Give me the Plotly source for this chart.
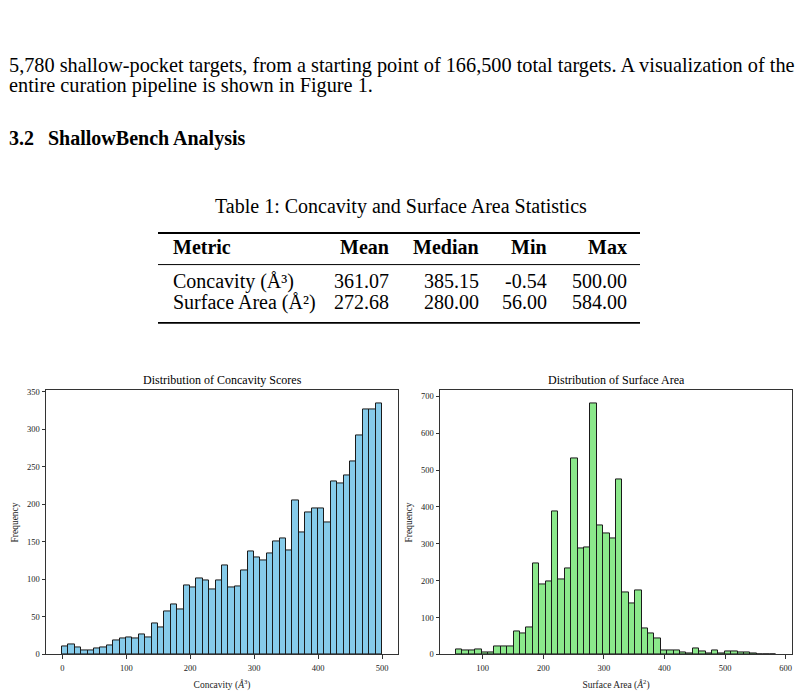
import numpy as np
import plotly.graph_objects as go

# ---------------- data ----------------
conc_min, conc_max = -0.54, 500.00
conc_counts = [11, 13, 10, 6, 6, 8, 10, 12, 19, 22,
               23, 22, 27, 23, 41, 36, 57, 67, 60, 92,
               89, 101, 99, 86, 99, 119, 89, 91, 112, 137,
               129, 125, 134, 150, 155, 139, 205, 163, 189, 194,
               194, 176, 231, 228, 239, 257, 292, 326, 326, 335]

sa_min, sa_max = 56.00, 584.00
sa_counts = [13, 10, 10, 15, 6, 6, 23, 21, 21, 62,
             56, 74, 247, 190, 199, 388, 204, 234, 531, 287,
             290, 682, 350, 327, 314, 474, 168, 138, 175, 71,
             57, 43, 12, 10, 12, 6, 4, 17, 9, 4,
             12, 4, 7, 7, 5, 5, 2, 0, 1, 1]

table_cols = ["Metric", "Mean", "Median", "Min", "Max"]
table_rows = [
    ["Concavity (Å³)", "361.07", "385.15", "-0.54", "500.00"],
    ["Surface Area (Å²)", "272.68", "280.00", "56.00", "584.00"],
]

conc_xticks = [0, 100, 200, 300, 400, 500]
conc_yticks = [0, 50, 100, 150, 200, 250, 300, 350]
sa_xticks = [100, 200, 300, 400, 500, 600]
sa_yticks = [0, 100, 200, 300, 400, 500, 600, 700]

body_line1 = ("5,780 shallow-pocket targets, from a starting point of 166,500 total targets. "
              "A visualization of the")
body_line2 = "entire curation pipeline is shown in Figure 1."
section_num = "3.2"
section_title = "ShallowBench Analysis"
table_caption = "Table 1: Concavity and Surface Area Statistics"

# ---------------- layout helpers ----------------
W, H = 804, 697
SERIF = "Liberation Serif"


def px(x, y):
    return x / W, 1 - y / H


def bins(lo, hi, counts):
    edges = np.linspace(lo, hi, len(counts) + 1)
    centers = (edges[:-1] + edges[1:]) / 2
    width = edges[1] - edges[0]
    return centers, width


def padded(lo, hi):
    m = 0.05 * (hi - lo)
    return [lo - m, hi + m]


fig = go.Figure()

cx, cw = bins(conc_min, conc_max, conc_counts)
fig.add_trace(go.Bar(x=cx, y=conc_counts, width=cw, xaxis="x", yaxis="y",
                     marker=dict(color="#86CBEA", line=dict(color="#1a1a1a", width=1)),
                     showlegend=False))
sx, sw = bins(sa_min, sa_max, sa_counts)
fig.add_trace(go.Bar(x=sx, y=sa_counts, width=sw, xaxis="x2", yaxis="y2",
                     marker=dict(color="#8BE88B", line=dict(color="#1a1a1a", width=1)),
                     showlegend=False))

axis_common = dict(showline=True, mirror=True, linecolor="#333333", linewidth=1,
                   ticks="outside", ticklen=3.5, tickwidth=1, tickcolor="#333333",
                   showgrid=False, zeroline=False,
                   tickfont=dict(family=SERIF, size=8.5, color="#222222"))

l0, _ = px(46, 0)
l1, _ = px(398, 0)
r0, _ = px(440, 0)
r1, _ = px(792, 0)
_, yb = px(0, 659)
_, yt = px(0, 391.5)

fig.update_layout(
    width=W, height=H,
    margin=dict(l=0, r=0, t=0, b=0),
    paper_bgcolor="white", plot_bgcolor="white",
    bargap=0,
    xaxis=dict(domain=[l0, l1], range=padded(conc_min, conc_max), tickvals=conc_xticks,
               anchor="y", ticklabelstandoff=2,
               title=dict(text="Concavity (<i>Å</i><sup>3</sup>)",
                          font=dict(family=SERIF, size=9.5, color="#222222"), standoff=9),
               **axis_common),
    yaxis=dict(domain=[yb, yt], range=[0, 1.05 * max(conc_counts)], tickvals=conc_yticks,
               anchor="x",
               title=dict(text="Frequency", font=dict(family=SERIF, size=9.5, color="#222222"),
                          standoff=6),
               **axis_common),
    xaxis2=dict(domain=[r0, r1], range=padded(sa_min, sa_max), tickvals=sa_xticks,
                anchor="y2", ticklabelstandoff=2,
                title=dict(text="Surface Area (<i>Å</i><sup>2</sup>)",
                           font=dict(family=SERIF, size=9.5, color="#222222"), standoff=9),
                **axis_common),
    yaxis2=dict(domain=[yb, yt], range=[0, 1.05 * max(sa_counts)], tickvals=sa_yticks,
                anchor="x2",
                title=dict(text="Frequency", font=dict(family=SERIF, size=9.5, color="#222222"),
                           standoff=6),
                **axis_common),
)

ann = []


def text(x, y, s, size=20, bold=False, xanchor="left", color="black"):
    ax, ay = px(x, y)
    ann.append(dict(x=ax, y=ay, xref="paper", yref="paper", text=(f"<b>{s}</b>" if bold else s),
                    showarrow=False, xanchor=xanchor, yanchor="middle",
                    font=dict(family=SERIF, size=size, color=color)))


# body text
text(7, 62, body_line1, size=20.3)
text(7, 83, body_line2, size=20.3)
text(7, 136, section_num, size=20, bold=True)
text(46, 136, section_title, size=20, bold=True)

# table
text(401, 205, table_caption, size=20, xanchor="center")
col_x = [171, 391, 481, 549, 629]
for i, c in enumerate(table_cols):
    text(col_x[i], 246, c, size=20, bold=True, xanchor="left" if i == 0 else "right")
for r, row in enumerate(table_rows):
    y = 281 + 21 * r
    for i, c in enumerate(row):
        text(col_x[i], y, c, size=20, xanchor="left" if i == 0 else "right")

shapes = []
for yy, lw in [(232, 1.8), (264, 1.0), (323, 1.8)]:
    xa, ya = px(158, yy)
    xb, _ = px(640, yy)
    shapes.append(dict(type="line", xref="paper", yref="paper", x0=xa, x1=xb, y0=ya, y1=ya,
                       line=dict(color="black", width=lw)))

# subplot titles
text((46 + 398) / 2, 381, "Distribution of Concavity Scores", size=12, xanchor="center")
text((440 + 792) / 2, 381, "Distribution of Surface Area", size=12, xanchor="center")

fig.update_layout(annotations=ann, shapes=shapes)
fig.write_html("out.html")
